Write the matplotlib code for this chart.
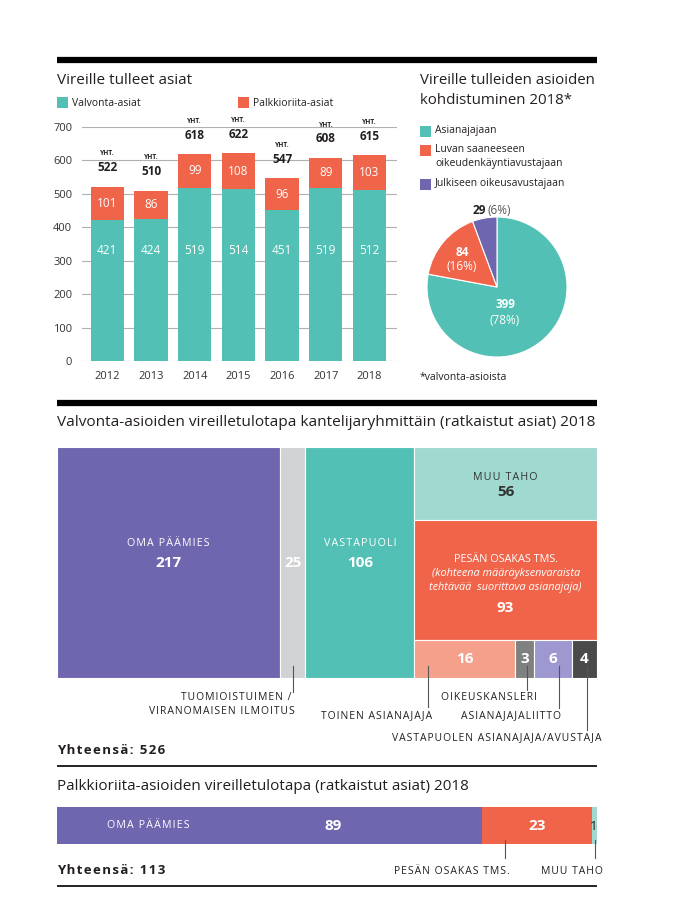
import matplotlib
matplotlib.use("Agg")
import matplotlib.pyplot as plt
from matplotlib.patches import Rectangle

plt.rcParams['font.family'] = ['Open Sans', 'DejaVu Sans']

# ---------------- data ----------------
years = ['2012', '2013', '2014', '2015', '2016', '2017', '2018']
valvonta = [421, 424, 519, 514, 451, 519, 512]
palkkio = [101, 86, 99, 108, 96, 89, 103]
totals = [522, 510, 618, 622, 547, 608, 615]
yticks = [0, 100, 200, 300, 400, 500, 600, 700]
bar_series = ['Valvonta-asiat', 'Palkkioriita-asiat']

pie_labels = ['Asianajajaan', 'Luvan saaneeseen\noikeudenkäyntiavustajaan',
              'Julkiseen oikeusavustajaan']
pie_values = [399, 84, 29]
pie_pct = [78, 16, 6]

col_names = ['OMA PÄÄMIES', 'TUOMIOISTUIMEN /\nVIRANOMAISEN ILMOITUS', 'VASTAPUOLI']
col_values = [217, 25, 106]
row_names = ['MUU TAHO', 'PESÄN OSAKAS TMS.']
row_values = [56, 93]
small_names = ['TOINEN ASIANAJAJA', 'OIKEUSKANSLERI', 'ASIANAJAJALIITTO',
               'VASTAPUOLEN ASIANAJAJA/AVUSTAJA']
small_values = [16, 3, 6, 4]
tree_total = 526

palk_names = ['OMA PÄÄMIES', 'PESÄN OSAKAS TMS.', 'MUU TAHO']
palk_values = [89, 23, 1]
palk_total = 113

# ---------------- style ----------------
TEAL = '#52c0b4'
ORANGE = '#f0644a'
PURPLE = '#6e66ae'
LGRAY = '#d1d2d4'
LTEAL = '#a0d9d0'
SALMON = '#f4a08b'
MGRAY = '#808080'
LPURPLE = '#9d98d0'
DARK = '#4a4a4a'
TXT = '#231f20'
LINE = '#555555'

W, H = 679, 923
fig = plt.figure(figsize=(W / 100, H / 100), dpi=100)
fig.patch.set_facecolor('white')


def track(s, sp='\u200a'):
    return '\n'.join(sp.join(line) for line in s.split('\n'))


def add_ax(x0, y0, x1, y1):
    return fig.add_axes([x0 / W, 1 - y1 / H, (x1 - x0) / W, (y1 - y0) / H])


def to_px(ax, x, y):
    d = ax.transData.transform((x, y))
    return d[0], H - d[1]


# ---------------- bar chart ----------------
axb = add_ax(82, 127, 397, 361)
xs = list(range(len(years)))
axb.bar(xs, valvonta, width=0.76, color=TEAL, zorder=3)
axb.bar(xs, palkkio, width=0.76, bottom=valvonta, color=ORANGE, zorder=3)
axb.set_ylim(0, 700)
axb.set_xlim(-0.58, 6.63)
axb.set_yticks(yticks)
axb.set_yticklabels([str(t) for t in yticks])
axb.set_xticks(xs)
axb.set_xticklabels(years)
axb.tick_params(axis='both', length=0, labelsize=8, colors='#333333')
axb.tick_params(axis='y', pad=7)
axb.tick_params(axis='x', pad=7)
axb.grid(axis='y', color='#b0b0b0', lw=0.8, zorder=0)
for s in axb.spines.values():
    s.set_visible(False)
for i in xs:
    axb.text(i, 332, str(valvonta[i]), color='white', ha='center', va='center', fontsize=8.5)
    axb.text(i, valvonta[i] + palkkio[i] / 2, str(palkkio[i]), color='white',
             ha='center', va='center', fontsize=8.5)
    axb.annotate(str(totals[i]), (i, totals[i]), xytext=(0, 9), textcoords='offset points',
                 ha='center', va='bottom', fontsize=8.5, fontweight='bold', color=TXT,
                 annotation_clip=False)
    axb.annotate('YHT.', (i, totals[i]), xytext=(0, 21), textcoords='offset points',
                 ha='center', va='bottom', fontsize=4.8, fontweight='bold', color=TXT,
                 annotation_clip=False)

# ---------------- pie ----------------
cx, cy, r = 497, 287, 70
axp = add_ax(cx - r, cy - r, cx + r, cy + r)
axp.pie(pie_values, colors=[TEAL, ORANGE, PURPLE], startangle=90, counterclock=False,
        radius=1, wedgeprops=dict(edgecolor='white', linewidth=0.8))
axp.set_xlim(-1, 1)
axp.set_ylim(-1, 1)
axp.set_aspect('equal')
axp.axis('off')

# ---------------- treemap ----------------
axt = add_ax(57, 447, 597, 678)
axt.set_xlim(0, tree_total)
axt.set_ylim(1, 0)
axt.axis('off')
rects = {}
x = 0
for n, v, c in zip(col_names, col_values, [PURPLE, LGRAY, TEAL]):
    axt.add_patch(Rectangle((x, 0), v, 1, facecolor=c, edgecolor='white', lw=0.8))
    rects[n] = (x, 0, v, 1)
    x += v
right_x0 = x
right_w = tree_total - x
right_sum = sum(row_values) + sum(small_values)
y = 0
for n, v, c in zip(row_names, row_values, [LTEAL, ORANGE]):
    h = v / right_sum
    axt.add_patch(Rectangle((right_x0, y), right_w, h, facecolor=c, edgecolor='white', lw=0.8))
    rects[n] = (right_x0, y, right_w, h)
    y += h
h = 1 - y
xx = right_x0
small_sum = sum(small_values)
for n, v, c in zip(small_names, small_values, [SALMON, MGRAY, LPURPLE, DARK]):
    w = v / small_sum * right_w
    axt.add_patch(Rectangle((xx, y), w, h, facecolor=c, edgecolor='white', lw=0.8))
    rects[n] = (xx, y, w, h)
    xx += w

# ---------------- horizontal bar ----------------
axh = add_ax(57, 807, 597, 844)
left = 0
for v, c in zip(palk_values, [PURPLE, ORANGE, LTEAL]):
    axh.barh(0, v, left=left, height=1, color=c, edgecolor='none')
    left += v
axh.set_xlim(0, palk_total)
axh.set_ylim(-0.5, 0.5)
axh.axis('off')

# ---------------- overlay (pixel coords) ----------------
ov = fig.add_axes([0, 0, 1, 1], zorder=10)
ov.set_xlim(0, W)
ov.set_ylim(H, 0)
ov.axis('off')

# rules
ov.plot([57, 597], [60, 60], color='black', lw=4.5, solid_capstyle='butt')
ov.plot([57, 597], [403, 403], color='black', lw=4.5, solid_capstyle='butt')
ov.plot([57, 597], [766, 766], color='black', lw=1.2, solid_capstyle='butt')
ov.plot([57, 597], [886, 886], color='black', lw=1.2, solid_capstyle='butt')

# bar chart title + legend
ov.text(57, 80, 'Vireille tulleet asiat', fontsize=11, color=TXT, va='center')
for xl, lab, c in zip([57, 238], bar_series, [TEAL, ORANGE]):
    ov.add_patch(Rectangle((xl, 97), 11, 11, facecolor=c, edgecolor='none'))
    ov.text(xl + 15, 103, lab, fontsize=7.5, color=TXT, va='center')

# pie title + legend
ov.text(420, 80, 'Vireille tulleiden asioiden', fontsize=10.8, color=TXT, va='center')
ov.text(420, 100, 'kohdistuminen 2018*', fontsize=10.8, color=TXT, va='center')
for yl, lab, c in zip([131, 150, 184], pie_labels, [TEAL, ORANGE, PURPLE]):
    ov.add_patch(Rectangle((420, yl - 5.5), 11, 11, facecolor=c, edgecolor='none'))
    ov.text(435, yl - 6, lab, fontsize=7.5, color=TXT, va='top', linespacing=1.35)
ov.text(505, 305, str(pie_values[0]), fontsize=8.5, fontweight='bold', color='white',
        ha='center', va='center')
ov.text(505, 320, f'({pie_pct[0]}%)', fontsize=8.5, color='white', ha='center', va='center')
ov.text(462, 252, str(pie_values[1]), fontsize=8.5, fontweight='bold', color='white',
        ha='center', va='center')
ov.text(462, 266, f'({pie_pct[1]}%)', fontsize=8.5, color='white', ha='center', va='center')
ov.text(486, 211, str(pie_values[2]), fontsize=8.5, fontweight='bold', color=TXT,
        ha='right', va='center')
ov.text(488, 211, f'({pie_pct[2]}%)', fontsize=8.5, color='#555555', ha='left', va='center')
ov.text(420, 378, '*valvonta-asioista', fontsize=7.5, color=TXT, va='center')

# treemap title
ov.text(57, 423, 'Valvonta-asioiden vireilletulotapa kantelijaryhmittäin (ratkaistut asiat) 2018',
        fontsize=11.1, color=TXT, va='center')


def rect_px(name):
    x0, y0, w, h = rects[name]
    ax0, ay0 = to_px(axt, x0, y0)
    ax1, ay1 = to_px(axt, x0 + w, y0 + h)
    return ax0, ay0, ax1, ay1


NUM = 11
CAP = 7.7
LAB = 7.5
# big column labels
for n, v in zip(col_names, col_values):
    x0, y0, x1, y1 = rect_px(n)
    xc = (x0 + x1) / 2
    if '\n' not in n:
        ov.text(xc, 544, track(n), fontsize=CAP, color='white', ha='center', va='center')
    ov.text(xc, 563, str(v), fontsize=NUM, fontweight='bold', color='white',
            ha='center', va='center')

# MUU TAHO
x0, y0, x1, y1 = rect_px(row_names[0])
xc = (x0 + x1) / 2
ov.text(xc, y0 + 30, track(row_names[0]), fontsize=CAP, color='#333333', ha='center', va='center')
ov.text(xc, y0 + 45, str(row_values[0]), fontsize=NUM, fontweight='bold', color='#333333',
        ha='center', va='center')
# PESÄN OSAKAS
x0, y0, x1, y1 = rect_px(row_names[1])
xc = (x0 + x1) / 2
ov.text(xc, y0 + 40, row_names[1], fontsize=7.8, color='white', ha='center', va='center')
ov.text(xc, y0 + 54, '(kohteena määräyksenvaraista', fontsize=7.8, style='italic',
        color='white', ha='center', va='center')
ov.text(xc, y0 + 68, 'tehtävää  suorittava asianajaja)', fontsize=7.8, style='italic',
        color='white', ha='center', va='center')
ov.text(xc, y0 + 88, str(row_values[1]), fontsize=NUM, fontweight='bold', color='white',
        ha='center', va='center')
# small row
for n, v in zip(small_names, small_values):
    x0, y0, x1, y1 = rect_px(n)
    ov.text((x0 + x1) / 2, (y0 + y1) / 2, str(v), fontsize=NUM, fontweight='bold',
            color='white', ha='center', va='center')

# leader lines + labels below treemap
leaders = [
    (col_names[1], 0.5, 692, [(697, 'TUOMIOISTUIMEN /', -1), (711, 'VIRANOMAISEN ILMOITUS', 2)]),
    (small_names[0], 14, 707, [(716, small_names[0], 4)]),
    (small_names[1], 0.65, 690, [(697, small_names[1], 10)]),
    (small_names[2], 0.66, 708, [(716, small_names[2], 2)]),
    (small_names[3], 0.6, 730, [(738, small_names[3], 15)]),
]
for n, fx, yend, labs in leaders:
    x0, y0, x1, y1 = rect_px(n)
    lx = x0 + fx if fx > 1 else x0 + fx * (x1 - x0)
    ov.plot([lx, lx], [y1 - 12, yend], color=LINE, lw=0.8)
    for yy, t, dx in labs:
        ov.text(lx + dx, yy, track(t), fontsize=LAB, color=TXT, ha='right', va='center')

ov.text(57, 750, track(f'Yhteensä: {tree_total}'), fontsize=9.5, fontweight='bold', color=TXT,
        va='center')

# palkkioriita
ov.text(57, 786, 'Palkkioriita-asioiden vireilletulotapa (ratkaistut asiat) 2018',
        fontsize=11, color=TXT, va='center')
starts = [0, palk_values[0], palk_values[0] + palk_values[1]]
px0 = [to_px(axh, s, 0)[0] for s in starts]
px1 = [to_px(axh, s + v, 0)[0] for s, v in zip(starts, palk_values)]
ov.text(148, 826, track(palk_names[0]), fontsize=CAP, color='white', ha='center', va='center')
ov.text(333, 826, str(palk_values[0]), fontsize=NUM, fontweight='bold', color='white',
        ha='center', va='center')
ov.text((px0[1] + px1[1]) / 2, 826, str(palk_values[1]), fontsize=NUM, fontweight='bold',
        color='white', ha='center', va='center')
ov.text((px0[2] + px1[2]) / 2 - 1, 826, str(palk_values[2]), fontsize=9.5, color=TXT,
        ha='center', va='center')
for i, dx in [(1, 4), (2, 8)]:
    lx = px0[i] + 23 if i == 1 else (px0[i] + px1[i]) / 2
    ov.plot([lx, lx], [840, 858], color=LINE, lw=0.8)
    ov.text(lx + dx, 871, track(palk_names[i]), fontsize=LAB, color=TXT, ha='right', va='center')
ov.text(57, 871, track(f'Yhteensä: {palk_total}'), fontsize=9.5, fontweight='bold', color=TXT,
        va='center')

fig.savefig('out.png', dpi=100, facecolor='white')
